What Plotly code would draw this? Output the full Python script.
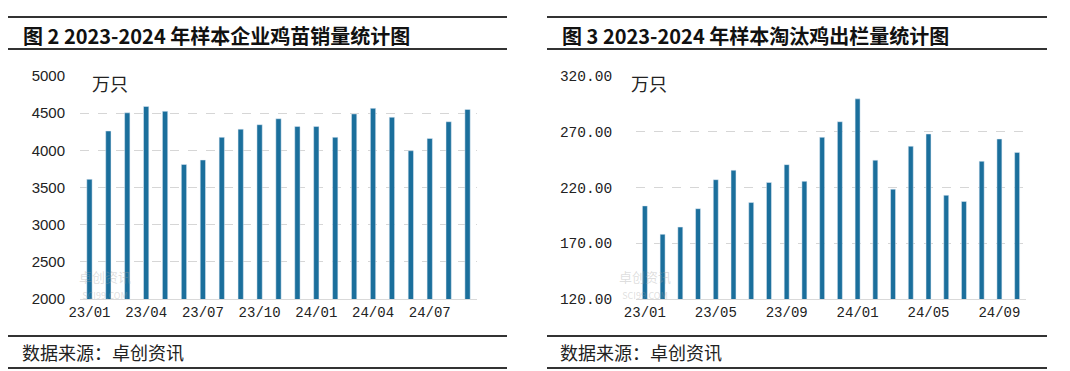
import plotly.graph_objects as go

# ---------------- data ----------------
months_left = ["23/01", "23/02", "23/03", "23/04", "23/05", "23/06", "23/07", "23/08", "23/09",
               "23/10", "23/11", "23/12", "24/01", "24/02", "24/03", "24/04", "24/05", "24/06",
               "24/07", "24/08", "24/09"]
chick_sales = [3610, 4260, 4505, 4590, 4525, 3810, 3870, 4175, 4285, 4345, 4425, 4320, 4320,
               4175, 4490, 4565, 4445, 3995, 4160, 4385, 4550]
ticks_left = ["23/01", "23/04", "23/07", "23/10", "24/01", "24/04", "24/07"]

months_right = ["23/01", "23/02", "23/03", "23/04", "23/05", "23/06", "23/07", "23/08", "23/09",
                "23/10", "23/11", "23/12", "24/01", "24/02", "24/03", "24/04", "24/05", "24/06",
                "24/07", "24/08", "24/09", "24/10"]
culled_hens = [203.5, 178.0, 184.5, 201.0, 227.0, 235.5, 206.5, 224.5, 240.5, 225.5, 265.0,
               279.0, 299.5, 244.5, 218.5, 257.0, 268.0, 213.0, 207.5, 243.5, 263.5, 251.5]
ticks_right = ["23/01", "23/05", "23/09", "24/01", "24/05", "24/09"]

title_left = "图 2 2023-2024 年样本企业鸡苗销量统计图"
title_right = "图 3 2023-2024 年样本淘汰鸡出栏量统计图"
unit = "万只"
source = "数据来源：卓创资讯"

# ---------------- layout constants ----------------
W, H = 1070, 371
OFF = 8  # the page body adds an 8px offset
BAR = "#1b6f9c"
CJK = "Noto Sans CJK SC"


def px(x):
    return (x - OFF) / W


def py(y):
    return 1 - (y - OFF) / H


fig = go.Figure()
fig.add_trace(go.Bar(x=months_left, y=chick_sales, marker_color=BAR, xaxis="x", yaxis="y",
                     hoverinfo="x+y"))
fig.add_trace(go.Bar(x=months_right, y=culled_hens, marker_color=BAR, xaxis="x2", yaxis="y2",
                     hoverinfo="x+y"))

ydom = [py(299), py(76)]
grid = dict(showgrid=True, gridcolor="#d6d6d6", griddash="dash", gridwidth=1, zeroline=False,
            automargin=False, ticks="outside", tickcolor="rgba(0,0,0,0)")

fig.update_layout(
    width=W, height=H,
    margin=dict(l=0, r=0, t=0, b=0, autoexpand=False),
    paper_bgcolor="white", plot_bgcolor="white",
    showlegend=False, bargap=0.72,
    xaxis=dict(domain=[px(80), px(477)], type="category", tickmode="array", tickvals=ticks_left,
               ticks="", showline=True, linecolor="#d9d9d9", linewidth=1, automargin=False,
               tickfont=dict(family="Liberation Mono", size=14, color="#222"),
               anchor="y"),
    yaxis=dict(domain=ydom, range=[2000, 5000], dtick=500, ticklen=11,
               tickfont=dict(family="Liberation Sans", size=15, color="#222"),
               anchor="x", **grid),
    xaxis2=dict(domain=[px(636), px(1026)], type="category", tickmode="array", tickvals=ticks_right,
                ticks="", showline=True, linecolor="#d9d9d9", linewidth=1, automargin=False,
                tickfont=dict(family="Liberation Mono", size=14, color="#222"),
                anchor="y2"),
    yaxis2=dict(domain=ydom, range=[120, 320], tick0=120, dtick=50, tickformat=".2f",
                ticklen=20,
                tickfont=dict(family="Liberation Mono", size=14.5, color="#222"),
                anchor="x2", **grid),
)

shapes = []
annos = []
for (x0, x1, title, unit_x, src_x, wm_x) in [
        (8, 507, title_left, 90, 20, 43),
        (547, 1047, title_right, 629, 558, 583)]:
    for yline in (17, 49, 336, 368):
        shapes.append(dict(type="line", xref="paper", yref="paper", x0=px(x0), x1=px(x1),
                           y0=py(yline), y1=py(yline), line=dict(color="#333", width=2)))
    annos.append(dict(text="<b>%s</b>" % title, xref="paper", yref="paper", x=px(x0 + 13),
                      y=py(35), xanchor="left", yanchor="middle", showarrow=False,
                      font=dict(family=CJK, size=20, color="#111")))
    annos.append(dict(text=unit, xref="paper", yref="paper", x=px(unit_x), y=py(83),
                      xanchor="left", yanchor="middle", showarrow=False, bgcolor="white",
                      font=dict(family=CJK, size=18, color="#222")))
    annos.append(dict(text=source, xref="paper", yref="paper", x=px(src_x), y=py(352),
                      xanchor="left", yanchor="middle", showarrow=False,
                      font=dict(family=CJK, size=18, color="#222")))
    # faint watermark
    annos.append(dict(text="卓创资讯<br><span style='font-size:9px'>SCI99.COM</span>",
                      xref="paper", yref="paper", x=px(wm_x + 62), y=py(304),
                      xanchor="center", yanchor="bottom", showarrow=False, align="center",
                      font=dict(family=CJK, size=13, color="rgba(160,160,160,0.35)")))

fig.update_layout(shapes=shapes, annotations=annos)
fig.write_html("out.html")
